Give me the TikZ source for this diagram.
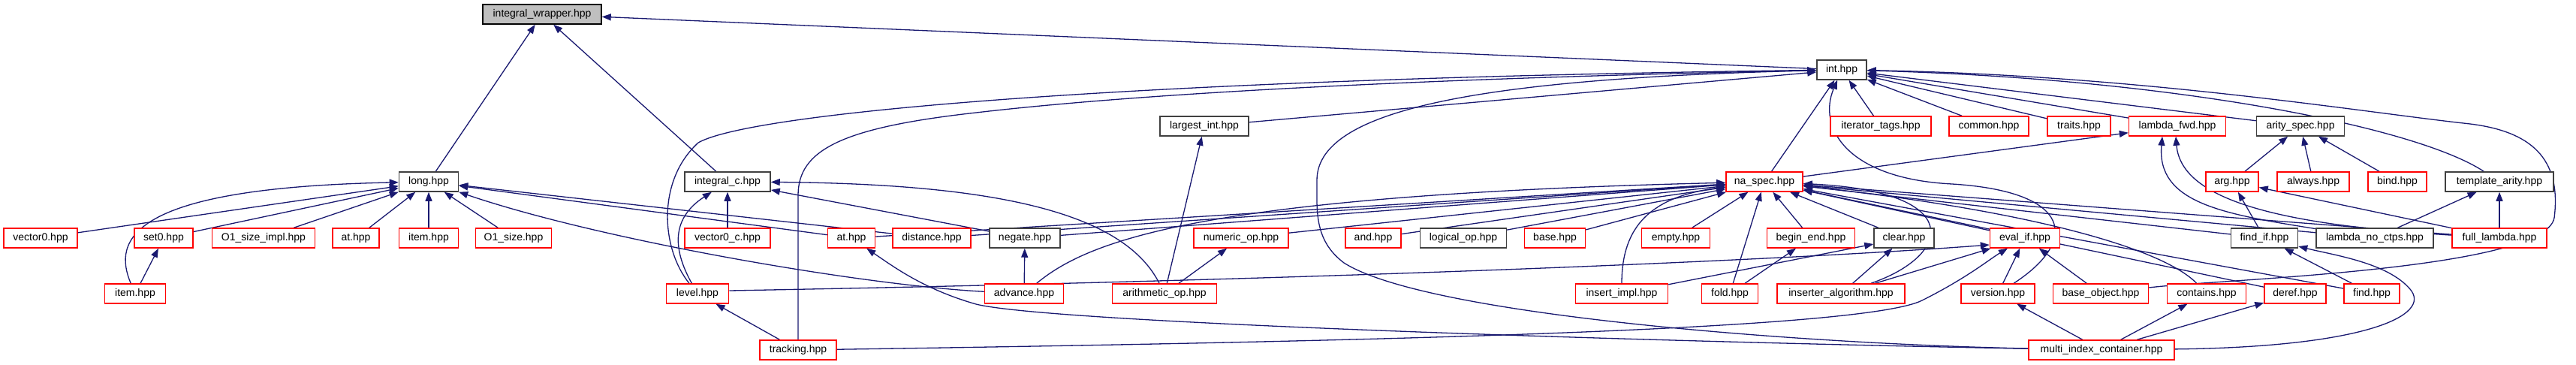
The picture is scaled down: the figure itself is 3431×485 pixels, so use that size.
\documentclass[tikz,border=0pt]{standalone}
\usepackage{fontspec}
\setmainfont{Liberation Sans}
\usepackage{tikz}
\usetikzlibrary{arrows.meta, backgrounds}
\definecolor{edgeblue}{HTML}{191970}
\definecolor{redline}{HTML}{FF0000}
\definecolor{greybox}{HTML}{BFBFBF}
\definecolor{darkline}{HTML}{404040}

\begin{document}
\begin{tikzpicture}[x=1pt, y=-1pt]
\tikzstyle{filebox}=[draw, line width=1.5pt, minimum height=26pt, inner sep=0pt, fill=white, text=black, font=\fontsize{14}{16}\selectfont]
\tikzstyle{redfile}=[filebox, draw=redline]
\tikzstyle{blackfile}=[filebox, draw=darkline]
\tikzstyle{incl}=[-{Triangle[length=12pt, width=9pt]}, line width=1.3pt, edgeblue]

\useasboundingbox (0,0) rectangle (3431,485);

%% rows of files
\node (iw) at (722,19) [filebox, draw=black, fill=greybox, minimum width=158pt] {integral\_wrapper.hpp};

\node (int) at (2453,93) [blackfile, minimum width=66pt] {int.hpp};

\node (largest) at (1604,168) [blackfile, minimum width=118pt] {largest\_int.hpp};
\node (itags) at (2505,168) [redfile, minimum width=134pt] {iterator\_tags.hpp};
\node (common) at (2649,168) [redfile, minimum width=106pt] {common.hpp};
\node (traits) at (2769,168) [redfile, minimum width=84pt] {traits.hpp};
\node (lfwd) at (2900,168) [redfile, minimum width=129pt] {lambda\_fwd.hpp};
\node (arity) at (3064,168) [blackfile, minimum width=117pt] {arity\_spec.hpp};

\node (long) at (571,242) [blackfile, minimum width=79pt] {long.hpp};
\node (intc) at (969,242) [blackfile, minimum width=114pt] {integral\_c.hpp};
\node (naspec) at (2350,242) [redfile, minimum width=102pt] {na\_spec.hpp};
\node (arg) at (2973,242) [redfile, minimum width=70pt] {arg.hpp};
\node (always) at (3081,242) [redfile, minimum width=96pt] {always.hpp};
\node (bind) at (3193,242) [redfile, minimum width=78pt] {bind.hpp};
\node (tarity) at (3329,242) [blackfile, minimum width=144pt] {template\_arity.hpp};

\node (vector0) at (54,317) [redfile, minimum width=98pt] {vector0.hpp};
\node (set0) at (218,317) [redfile, minimum width=78pt] {set0.hpp};
\node (o1impl) at (351,317) [redfile, minimum width=137pt] {O1\_size\_impl.hpp};
\node (at1) at (474,317) [redfile, minimum width=62pt] {at.hpp};
\node (item1) at (571,317) [redfile, minimum width=79pt] {item.hpp};
\node (o1size) at (684,317) [redfile, minimum width=101pt] {O1\_size.hpp};
\node (vector0c) at (969,317) [redfile, minimum width=114pt] {vector0\_c.hpp};
\node (at2) at (1134,317) [redfile, minimum width=63pt] {at.hpp};
\node (distance) at (1241,317) [redfile, minimum width=104pt] {distance.hpp};
\node (negate) at (1365,317) [blackfile, minimum width=94pt] {negate.hpp};
\node (numop) at (1653,317) [redfile, minimum width=126pt] {numeric\_op.hpp};
\node (and) at (1829,317) [redfile, minimum width=74pt] {and.hpp};
\node (logop) at (1949,317) [blackfile, minimum width=115pt] {logical\_op.hpp};
\node (base) at (2071,317) [redfile, minimum width=81pt] {base.hpp};
\node (empty) at (2232,317) [redfile, minimum width=91pt] {empty.hpp};
\node (beginend) at (2412,317) [redfile, minimum width=117pt] {begin\_end.hpp};
\node (clear) at (2536,317) [blackfile, minimum width=80pt] {clear.hpp};
\node (evalif) at (2697,317) [redfile, minimum width=93pt] {eval\_if.hpp};
\node (findif) at (3016,317) [blackfile, minimum width=89pt] {find\_if.hpp};
\node (lnoctps) at (3163,317) [blackfile, minimum width=156pt] {lambda\_no\_ctps.hpp};
\node (fulllambda) at (3329,317) [redfile, minimum width=126pt] {full\_lambda.hpp};

\node (item2) at (180,391) [redfile, minimum width=81pt] {item.hpp};
\node (level) at (929,391) [redfile, minimum width=83pt] {level.hpp};
\node (advance) at (1364,391) [redfile, minimum width=105pt] {advance.hpp};
\node (arithop) at (1551,391) [redfile, minimum width=139pt] {arithmetic\_op.hpp};
\node (insimpl) at (2160,391) [redfile, minimum width=123pt] {insert\_impl.hpp};
\node (fold) at (2304,391) [redfile, minimum width=75pt] {fold.hpp};
\node (insalg) at (2452,391) [redfile, minimum width=170pt] {inserter\_algorithm.hpp};
\node (version) at (2661,391) [redfile, minimum width=98pt] {version.hpp};
\node (baseobj) at (2798,391) [redfile, minimum width=127pt] {base\_object.hpp};
\node (contains) at (2939,391) [redfile, minimum width=105pt] {contains.hpp};
\node (deref) at (3057,391) [redfile, minimum width=82pt] {deref.hpp};
\node (find) at (3159,391) [redfile, minimum width=74pt] {find.hpp};

\node (tracking) at (1063,466) [redfile, minimum width=102pt] {tracking.hpp};
\node (mic) at (2799,466) [redfile, minimum width=194pt] {multi\_index\_container.hpp};

\begin{pgfonlayer}{background}
%% into integral_wrapper.hpp
\draw [incl] (long) -- (iw);
\draw [incl] (intc) -- (iw);
\draw [incl] (int) -- (iw);

%% into int.hpp
\draw [incl] (largest) -- (int);
\draw [incl] (itags) -- (int);
\draw [incl] (common) -- (int);
\draw [incl] (traits) -- (int);
\draw [incl] (lfwd) -- (int);
\draw [incl] (arity) -- (int);
\draw [incl] (naspec) -- (int);
\draw [incl] (tarity) .. controls (3220,170) and (2900,105) .. (int);
\draw [incl] (baseobj) .. controls (2950,372) and (3390,360) .. (3402,290) .. controls (3412,210) and (3370,175) .. (3290,165) .. controls (3150,150) and (2850,100) .. (int);
\draw [incl] (version) .. controls (2770,320) and (2760,255) .. (2600,245) .. controls (2460,238) and (2420,170) .. (int);
\draw [incl] (level) .. controls (880,330) and (875,240) .. (930,190) .. controls (1000,150) and (1500,105) .. (int);
\draw [incl] (tracking) -- (1063,260) .. controls (1063,200) and (1120,170) .. (1300,150) .. controls (1600,115) and (2100,100) .. (int);
\draw [incl] (mic) .. controls (2400,458) and (1900,420) .. (1790,350) .. controls (1750,320) and (1754,280) .. (1754,240) .. controls (1754,150) and (1950,105) .. (int);

%% into long.hpp
\draw [incl] (vector0) -- (long);
\draw [incl] (set0) -- (long);
\draw [incl] (o1impl) -- (long);
\draw [incl] (at1) -- (long);
\draw [incl] (item1) -- (long);
\draw [incl] (o1size) -- (long);
\draw [incl] (at2) -- (long);
\draw [incl] (distance) -- (long);
\draw [incl] (advance) .. controls (1150,380) and (800,320) .. (long);
\draw [incl] (item2) .. controls (150,320) and (170,250) .. (long);

%% into integral_c.hpp
\draw [incl] (vector0c) -- (intc);
\draw [incl] (negate) -- (intc);
\draw [incl] (level) .. controls (895,330) and (895,290) .. (intc);
\draw [incl] (arithop) .. controls (1500,290) and (1350,245) .. (intc);

%% into na_spec.hpp
\draw [incl] (at2) -- (naspec);
\draw [incl] (distance) -- (naspec);
\draw [incl] (negate) -- (naspec);
\draw [incl] (numop) -- (naspec);
\draw [incl] (and) -- (naspec);
\draw [incl] (logop) -- (naspec);
\draw [incl] (base) -- (naspec);
\draw [incl] (empty) -- (naspec);
\draw [incl] (beginend) -- (naspec);
\draw [incl] (clear) -- (naspec);
\draw [incl] (evalif) -- (naspec);
\draw [incl] (findif) -- (naspec);
\draw [incl] (lnoctps) -- (naspec);
\draw [incl] (fulllambda) -- (naspec);
\draw [incl] (fold) -- (naspec);
\draw [incl] (deref) -- (naspec);
\draw [incl] (find) -- (naspec);
\draw [incl] (advance) .. controls (1450,320) and (1600,260) .. (naspec);
\draw [incl] (insimpl) .. controls (2160,300) and (2200,262) .. (naspec);
\draw [incl] (insalg) .. controls (2600,340) and (2620,255) .. (naspec);
\draw [incl] (contains) .. controls (2880,330) and (2700,280) .. (naspec);

%% the rest
\draw [incl] (item2) -- (set0);
\draw [incl] (arithop) -- (numop);
\draw [incl] (arithop) -- (largest);
\draw [incl] (advance) -- (negate);
\draw [incl] (tracking) -- (level);
\draw [incl] ([yshift=4pt]level.east) .. controls (1800,372) and (2400,345) .. ([yshift=-9pt]evalif.west);
\draw [incl] (tracking) .. controls (1800,455) and (2480,440) .. (2560,400) .. controls (2620,370) and (2650,345) .. (evalif);
\draw [incl] (insalg) -- (evalif);
\draw [incl] (version) -- (evalif);
\draw [incl] (baseobj) -- (evalif);
\draw [incl] (insimpl) -- (clear);
\draw [incl] (insalg) -- (clear);
\draw [incl] (fold) -- (beginend);
\draw [incl] (find) -- (findif);
\draw [incl] (mic) .. controls (3150,462) and (3240,420) .. (3210,385) .. controls (3180,350) and (3110,340) .. (findif);
\draw [incl] (findif) -- (arg);
\draw [incl] (fulllambda) -- (arg);
\draw [incl] (arg) -- (arity);
\draw [incl] (always) -- (arity);
\draw [incl] (bind) -- (arity);
\draw [incl] (lnoctps) -- (tarity);
\draw [incl] (fulllambda) -- (tarity);
\draw [incl] (naspec) -- (lfwd);
\draw [incl] (lnoctps) .. controls (2960,285) and (2872,270) .. ([xshift=-20pt]lfwd.south);
\draw [incl] (fulllambda) .. controls (3050,300) and (2905,270) .. ([xshift=-2pt]lfwd.south);
\draw [incl] (mic) -- (version);
\draw [incl] (mic) -- (contains);
\draw [incl] (mic) -- (deref);
\draw [incl] (mic) .. controls (2200,455) and (1400,430) .. (1300,405) .. controls (1230,385) and (1190,355) .. (at2);
\end{pgfonlayer}
\end{tikzpicture}
\end{document}
